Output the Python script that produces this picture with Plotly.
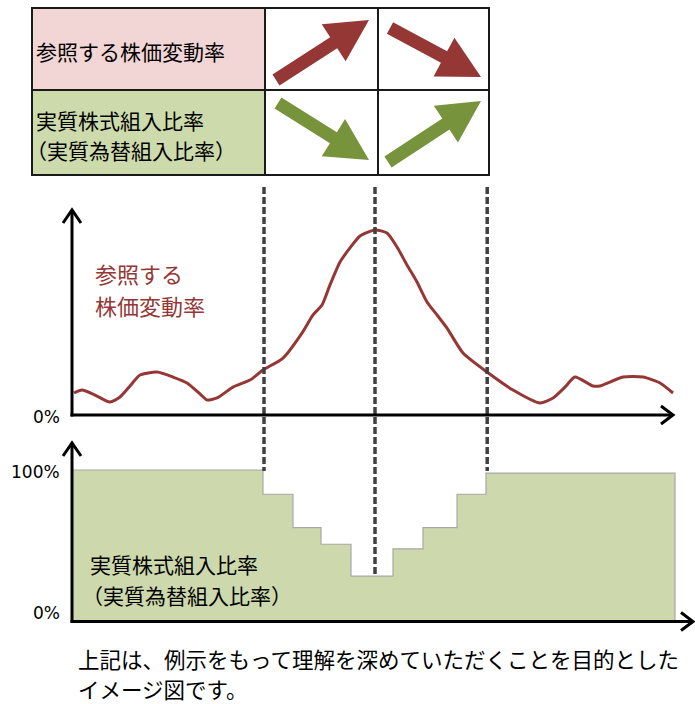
import math
import plotly.graph_objects as go

W, H = 695, 704

# ---------------- data ----------------
# time index (0..100 along the horizontal axis)
curve_t = [0.33, 1.67, 3.83, 6.33, 8.0, 9.67, 11.33, 14.17, 16.83, 19.17, 21.33, 22.5,
           24.17, 26.83, 29.67, 31.83, 35.17, 38.33, 40.17, 41.67, 43.0, 44.67, 46.33,
           48.0, 50.5, 52.5, 54.17, 55.83, 57.5, 59.17, 60.83, 62.5, 65.17, 69.17, 73.5,
           78.0, 80.17, 82.17, 83.83, 86.83, 88.0, 91.83, 95.17, 98.0, 100.17]
# reference stock-price volatility (arbitrary units, peak = 100)
curve_v = [11.9, 13.5, 10.8, 7.0, 9.7, 15.7, 21.6, 23.2, 20.5, 17.3, 11.4, 8.1,
           9.2, 15.1, 18.9, 24.3, 30.8, 44.3, 54.1, 59.5, 70.3, 82.7, 90.3,
           96.8, 100.0, 98.4, 90.8, 81.1, 71.9, 61.1, 54.1, 47.0, 33.5, 23.2, 13.5,
           6.5, 9.2, 15.1, 20.5, 15.7, 15.7, 20.5, 20.5, 17.3, 11.9]

# effective equity exposure (%) : step edges and levels
step_edges_t = [0.17, 31.83, 36.83, 41.5, 46.5, 53.5, 58.5, 64.17, 69.0, 100.5]
step_levels = [100, 84, 62, 51, 30, 48, 62, 84, 98]

# regime-change markers (dashed lines)
event_t = [32.0, 50.5, 69.2]

upper_tick_vals = [0]
upper_tick_text = ["0%"]
lower_tick_vals = [0, 100]
lower_tick_text = ["0%", "100%"]

row_labels = ["参照する株価変動率", ["実質株式組入比率", "（実質為替組入比率）"]]
curve_label = ["参照する", "株価変動率"]
area_label = ["実質株式組入比率", "（実質為替組入比率）"]
note = ["上記は、例示をもって理解を深めていただくことを目的とした", "イメージ図です。"]

# ---------------- styling / layout constants ----------------
RED = "#953735"
GREEN = "#77933C"
FILL = "#CDD9AD"
PINK = "#F2D5D5"
CELLG = "#CCDAAC"
FONT = "Noto Sans CJK JP"

AX_X = 72          # pixel x of y-axes
PX_PER_T = 6.0
UP_ZERO, UP_SCALE = 415.0, 1.85
LO_ZERO, LO_SCALE = 621.5, 1.515


def px(x):
    return x / W


def py(y):
    return 1 - y / H


def t_of(xpix):
    return (xpix - AX_X) / PX_PER_T


fig = go.Figure()

fig.add_trace(go.Scatter(
    x=step_edges_t, y=step_levels + [0], yaxis="y2", mode="lines",
    line=dict(shape="hv", color="#A8A8A8", width=1.2),
    fill="tozeroy", fillcolor=FILL, hoverinfo="skip"))

fig.add_trace(go.Scatter(
    x=curve_t, y=curve_v, yaxis="y", mode="lines",
    line=dict(shape="spline", smoothing=0.6, color=RED, width=3),
    hoverinfo="skip"))

shapes = []

# table
TL, TR, TT, TB = 32, 489, 8, 175
ROW = 90
COLS = [265, 378]
shapes.append(dict(type="rect", xref="paper", yref="paper", x0=px(TL), x1=px(COLS[0]),
                   y0=py(TT), y1=py(ROW), fillcolor=PINK, line=dict(width=0), layer="below"))
shapes.append(dict(type="rect", xref="paper", yref="paper", x0=px(TL), x1=px(COLS[0]),
                   y0=py(ROW), y1=py(TB), fillcolor=CELLG, line=dict(width=0), layer="below"))
shapes.append(dict(type="rect", xref="paper", yref="paper", x0=px(TL), x1=px(TR),
                   y0=py(TT), y1=py(TB), line=dict(color="#1a1a1a", width=2)))
shapes.append(dict(type="line", xref="paper", yref="paper", x0=px(TL), x1=px(TR),
                   y0=py(ROW), y1=py(ROW), line=dict(color="#1a1a1a", width=2)))
for c in COLS:
    shapes.append(dict(type="line", xref="paper", yref="paper", x0=px(c), x1=px(c),
                       y0=py(TT), y1=py(TB), line=dict(color="#1a1a1a", width=2)))


def arrow(x0, y0, x1, y1, color, shaft=13, headw=44, headl=42):
    dx, dy = x1 - x0, y1 - y0
    L = math.hypot(dx, dy)
    ux, uy = dx / L, dy / L
    nx, ny = -uy, ux
    bx, by = x1 - ux * headl, y1 - uy * headl
    pts = [(x0 + nx * shaft / 2, y0 + ny * shaft / 2),
           (bx + nx * shaft / 2, by + ny * shaft / 2),
           (bx + nx * headw / 2, by + ny * headw / 2),
           (x1, y1),
           (bx - nx * headw / 2, by - ny * headw / 2),
           (bx - nx * shaft / 2, by - ny * shaft / 2),
           (x0 - nx * shaft / 2, y0 - ny * shaft / 2)]
    path = "M " + " L ".join(f"{px(a):.5f},{py(b):.5f}" for a, b in pts) + " Z"
    return dict(type="path", xref="paper", yref="paper", path=path,
                fillcolor=color, line=dict(width=0))


shapes.append(arrow(276, 80, 369, 20, RED))
shapes.append(arrow(390, 28, 481, 77, RED))
shapes.append(arrow(278, 103, 369, 160, GREEN))
shapes.append(arrow(388, 162, 481, 101, GREEN))

# dashed regime lines
ends = [471, 575, 471]
for t, yb in zip(event_t, ends):
    xp = AX_X + t * PX_PER_T
    shapes.append(dict(type="line", xref="paper", yref="paper", x0=px(xp), x1=px(xp),
                       y0=py(187), y1=py(yb),
                       line=dict(color="#404040", width=3.5, dash="7px,3px")))


def axis_lines(ytip, ybot, xright, yaxis_y):
    out = []
    lw = dict(color="black", width=3)
    out.append(dict(type="line", xref="paper", yref="paper", x0=px(AX_X), x1=px(AX_X),
                    y0=py(ybot + 1.5), y1=py(ytip), line=lw))
    out.append(dict(type="path", xref="paper", yref="paper",
                    path=f"M {px(AX_X-9)},{py(ytip+13)} L {px(AX_X)},{py(ytip)} L {px(AX_X+9)},{py(ytip+13)}",
                    line=lw))
    out.append(dict(type="line", xref="paper", yref="paper", x0=px(AX_X - 1.5), x1=px(xright),
                    y0=py(yaxis_y), y1=py(yaxis_y), line=lw))
    out.append(dict(type="path", xref="paper", yref="paper",
                    path=f"M {px(xright-12)},{py(yaxis_y-9)} L {px(xright)},{py(yaxis_y)} L {px(xright-12)},{py(yaxis_y+9)}",
                    line=lw))
    return out


shapes += axis_lines(210, UP_ZERO, 673, UP_ZERO)
shapes += axis_lines(443, LO_ZERO, 693, LO_ZERO)

annotations = []


def text(s, x, y, size, color="black", anchor="left", family=FONT):
    annotations.append(dict(text=s, x=px(x), y=py(y), xref="paper", yref="paper",
                            xanchor=anchor, yanchor="middle", showarrow=False,
                            align="left",
                            font=dict(family=family, size=size, color=color)))


text(row_labels[0], 34, 51, 21)
text(row_labels[1][0], 34, 120, 21)
text(row_labels[1][1], 24, 150, 21)
text(curve_label[0], 93, 273, 22, RED)
text(curve_label[1], 93, 305, 22, RED)
text(area_label[0], 88, 564, 21)
text(area_label[1], 80, 595, 21)
text(note[0], 76, 658, 21.5)
text(note[1], 76, 688, 21.5)

# tick labels placed on the value scales of each panel
for v, s in zip(upper_tick_vals, upper_tick_text):
    text(s, 62, UP_ZERO - v * UP_SCALE + 2, 17, anchor="right", family="DejaVu Sans")
lower_offsets = [-9, 2]
for v, s, off in zip(lower_tick_vals, lower_tick_text, lower_offsets):
    text(s, 62, LO_ZERO - v * LO_SCALE + off, 17, anchor="right", family="DejaVu Sans")

fig.update_layout(
    width=W, height=H, autosize=False,
    margin=dict(l=0, r=0, t=0, b=0, pad=0),
    paper_bgcolor="white", plot_bgcolor="white",
    showlegend=False,
    xaxis=dict(range=[t_of(0), t_of(W)], visible=False, fixedrange=True),
    yaxis=dict(range=[(UP_ZERO - H) / UP_SCALE, UP_ZERO / UP_SCALE], domain=[0, 1],
               visible=False, fixedrange=True),
    yaxis2=dict(range=[(LO_ZERO - H) / LO_SCALE, LO_ZERO / LO_SCALE], domain=[0, 1],
                overlaying="y", visible=False, fixedrange=True),
    shapes=shapes,
    annotations=annotations,
)

fig.write_html("out.html", config={"displayModeBar": False},
               post_script="document.body.style.margin='0px';document.body.style.overflow='hidden';")
